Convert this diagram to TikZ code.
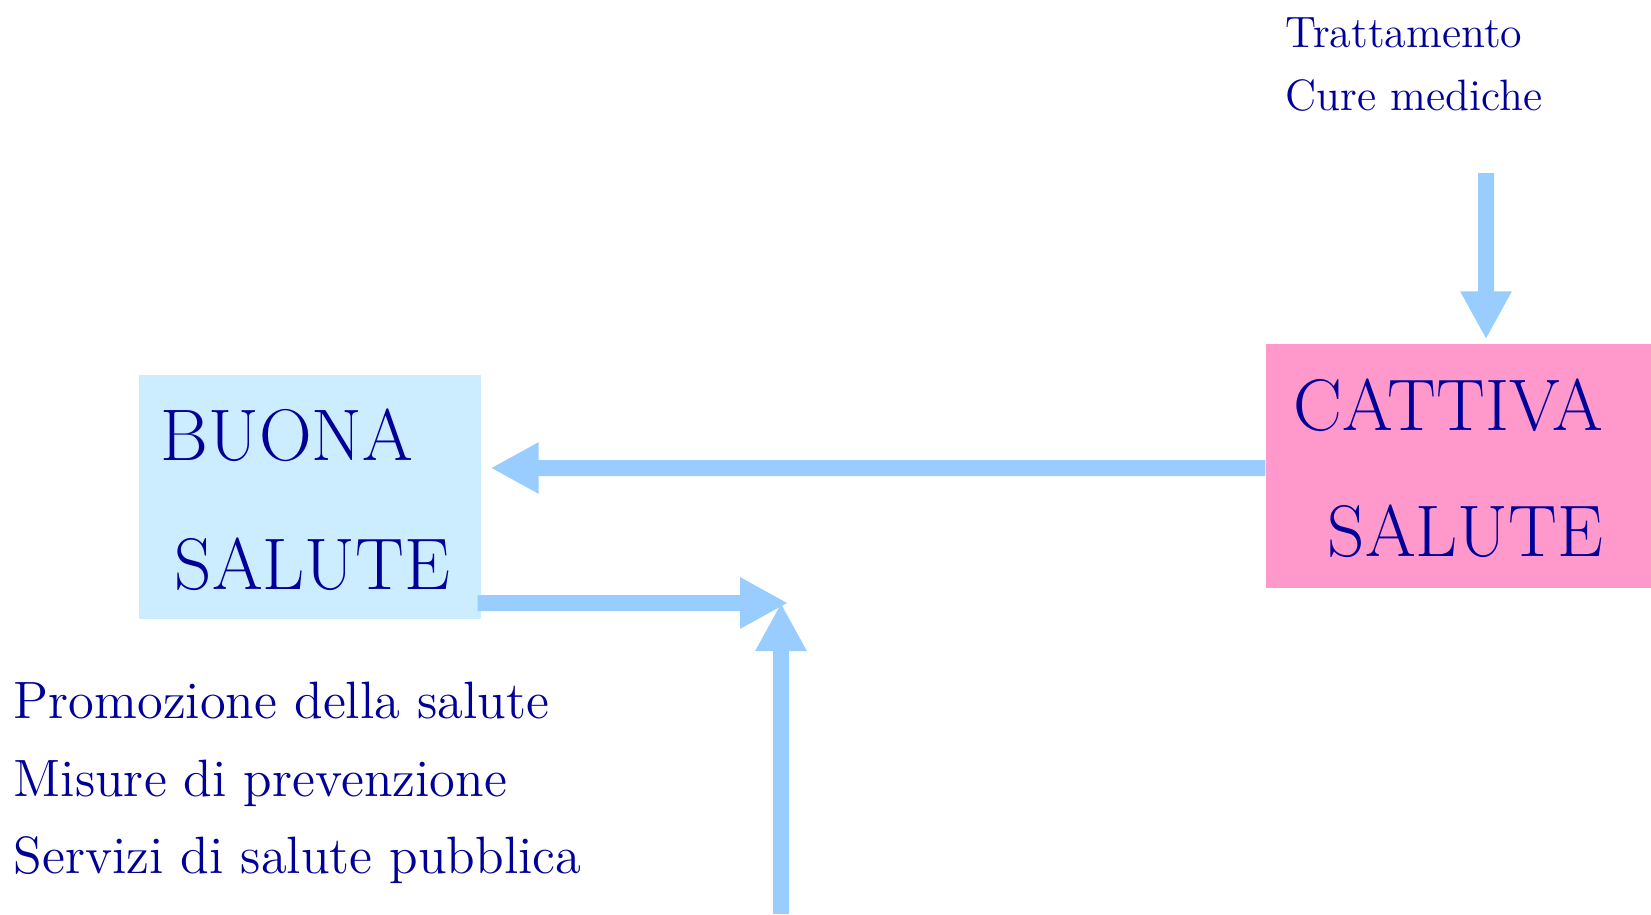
\documentclass[tikz,border=0pt]{standalone}
\usetikzlibrary{arrows.meta}

\definecolor{txtblue}{RGB}{0,0,153}
\definecolor{arrowblue}{RGB}{153,204,255}
\definecolor{goodfill}{RGB}{204,236,255}
\definecolor{badfill}{RGB}{255,153,204}

\begin{document}
\begin{tikzpicture}
        \tikzstyle{every node}=[text=txtblue, inner sep=0pt, anchor=base west]
        \tikzstyle{healthbox}=[rectangle, anchor=center, minimum height=2.44cm]
        \tikzstyle{boxtext}=[font=\fontsize{20.8}{25}\selectfont]
        \tikzstyle{flowarrow}=[draw=arrowblue, line width=1.6mm, -{Triangle[length=4.8mm,width=4.8mm]}]
        \useasboundingbox (0,0) rectangle (16.51,9.14);
        % the two states
        \node[healthbox, fill=goodfill, minimum width=3.42cm] (buona) at (3.10,4.17) {};
        \node[healthbox, fill=badfill, minimum width=3.85cm] (cattiva) at (14.585,4.48) {};
        \node[boxtext] (buonatxt) at (1.60,4.54) {BUONA};
        \node[boxtext] (buonasal) at (1.74,3.25) {SALUTE};
        \node[boxtext] (cattivatxt) at (12.93,4.84) {CATTIVA};
        \node[boxtext] (cattivasal) at (13.27,3.58) {SALUTE};
        % what acts on them
        \node[font=\fontsize{12.5}{15}\selectfont] (tratt) at (12.85,8.67) {Trattamento};
        \node[font=\fontsize{12.5}{15}\selectfont] (cure) at (12.85,8.04) {Cure mediche};
        \foreach \txt/\y/\nm in {Promozione della salute/1.96/promo, Misure di prevenzione/1.18/misure, Servizi di salute pubblica/0.41/servizi}
            \node[font=\fontsize{14.95}{18}\selectfont] (\nm) at (0.13,\y) {\txt};
        \coordinate (curestart) at (14.86,7.41);
        \coordinate (meet) at (7.88,3.11);
        \coordinate (base) at (7.81,0);
        % arrows
        \draw[flowarrow] ([yshift=-0.2mm]cattiva.west) -- ([xshift=0.9mm,yshift=2.9mm]buona.east);
        \draw[flowarrow] ([xshift=-0.4mm,yshift=-10.6mm]buona.east) -- (meet);
        \draw[flowarrow] (base) -- (base |- meet);
        \draw[flowarrow] (curestart) -- ([xshift=2.75mm,yshift=0.4mm]cattiva.north);
\end{tikzpicture}
\end{document}
